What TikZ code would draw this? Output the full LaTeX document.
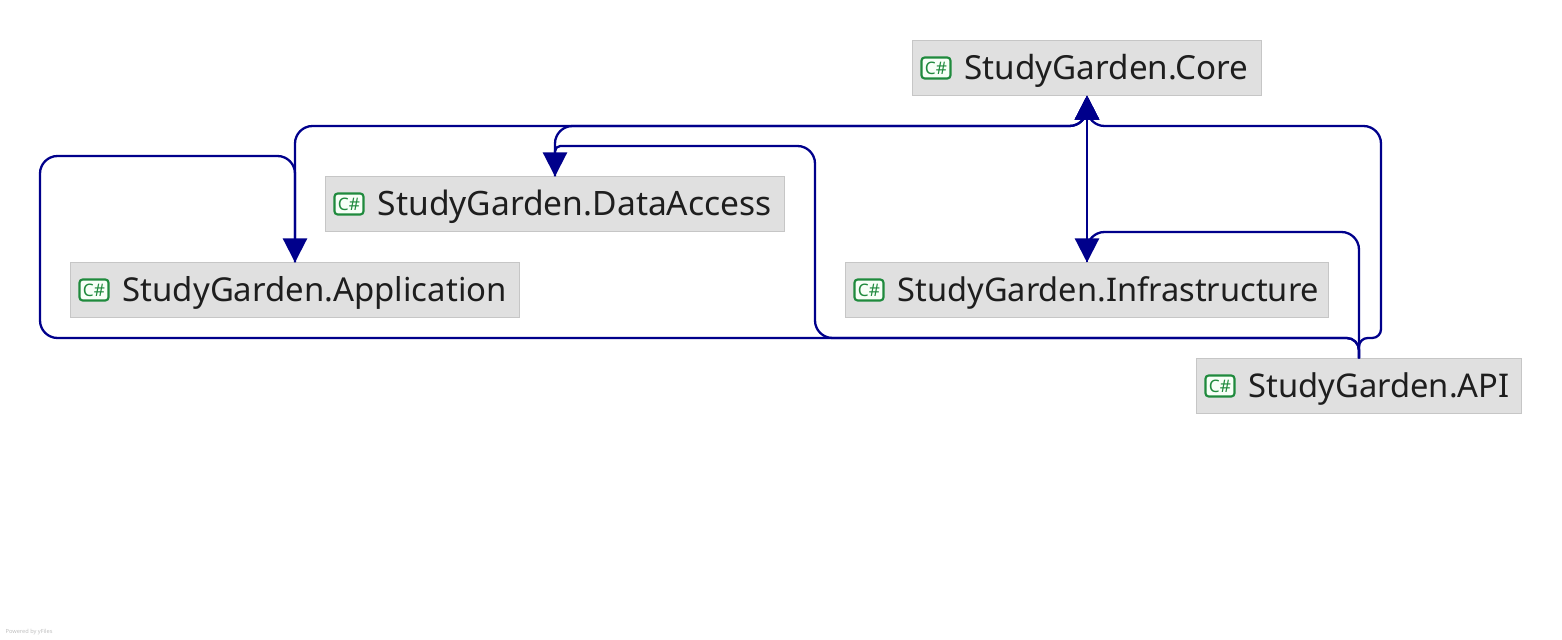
\documentclass[tikz,border=0pt]{standalone}
\usepackage{fontspec}
\setmainfont{Noto Sans}
\usetikzlibrary{arrows.meta}
\definecolor{depblue}{HTML}{00008B}
\definecolor{boxfill}{HTML}{E0E0E0}
\definecolor{boxline}{HTML}{C6C6C6}
\definecolor{csgreen}{HTML}{1F8A3D}
\definecolor{textdark}{HTML}{1E1E1E}
\tikzset{
  modbox/.style={draw=boxline,fill=boxfill,line width=0.3pt,inner sep=0pt,outer sep=0pt,minimum height=0.55cm},
  modname/.style={anchor=west,inner sep=0pt,text=textdark,font=\fontsize{#1}{11}\selectfont},
  csicon/.style={draw=csgreen,fill=green!3,line width=0.6pt,rounded corners=0.9pt,inner sep=0pt,minimum width=0.29cm,minimum height=0.21cm,text=csgreen,font=\fontsize{4.9}{5}\selectfont\bfseries},
  depline/.style={draw=depblue,line width=0.65pt,rounded corners=5pt},
  dephead/.style={depline,-{Triangle[length=0.24cm,width=0.24cm]}}
}
\begin{document}
\begin{tikzpicture}[x=0.01cm,y=-0.01cm]
   \useasboundingbox (0,0) rectangle (1562,640);
   % modules
   \node[modbox,minimum width=3.49cm] (core) at (1087,68) {};
   \node[modbox,minimum width=4.59cm] (dataaccess) at (555,204) {};
   \node[modbox,minimum width=4.49cm] (application) at (295,290) {};
   \node[modbox,minimum width=4.83cm] (infrastructure) at (1087,290) {};
   \node[modbox,minimum width=3.25cm] (api) at (1359,386) {};
   \node[csicon] (coreicon) at (936,68) {C\#};
   \node[csicon] (dataaccessicon) at (349,204) {C\#};
   \node[csicon] (applicationicon) at (94,290) {C\#};
   \node[csicon] (infrastructureicon) at (869,290) {C\#};
   \node[csicon] (apiicon) at (1220,386) {C\#};
   \node[modname=9.44] (corename) at (964,71) {StudyGarden.Core};
   \node[modname=9.55] (dataaccessname) at (377,207) {StudyGarden.DataAccess};
   \node[modname=9.36] (applicationname) at (122,293) {StudyGarden.Application};
   \node[modname=9.26] (infrastructurename) at (897,293) {StudyGarden.Infrastructure};
   \node[modname=9.29] (apiname) at (1248,389) {StudyGarden.API};
   % route corners
   \coordinate (lowleft) at (40,338);
   \coordinate (lowright) at (1381,338);
   \coordinate (lowmid) at (815,338);
   \coordinate (highright) at (1381,126);
   \coordinate (highleft) at (295,126);
   \coordinate (highdata) at (555,126);
   \coordinate (backleft) at (40,156);
   \coordinate (backapp) at (295,156);
   \coordinate (midtop) at (815,146);
   \coordinate (datatop) at (555,146);
   \coordinate (infratop) at (1087,232);
   \coordinate (apitop) at (1359,232);
   \coordinate (apilow) at (1359,338);
   \coordinate (coretop) at (1087,126);
   % dependencies
   \draw[dephead] (api.north) -- (apitop) -- (infratop) -- (infrastructure.north);
   \draw[dephead,rounded corners=3.5pt] (api.north) -- (apilow) [rounded corners=5pt] -- (lowmid) -- (midtop) [rounded corners=1.5pt] -- (datatop) -- (dataaccess.north);
   \draw[dephead,rounded corners=3.5pt] (api.north) -- (apilow) [rounded corners=5pt] -- (lowleft) -- (backleft) -- (backapp) -- (application.north);
   \draw[dephead,rounded corners=2.5pt] (api.north) -- (apilow) -- (lowright) [rounded corners=5pt] -- (highright) -- (coretop) [rounded corners=3pt] -- (core.south);
   \draw[dephead] (application.north) -- (highleft) -- (coretop) [rounded corners=3pt] -- (core.south);
   \draw[dephead] (dataaccess.north) -- (highdata) -- (coretop) [rounded corners=3pt] -- (core.south);
   \draw[dephead] (infrastructure.north) -- (core.south);
   \node[anchor=west,inner sep=0pt,text=black!25,font=\fontsize{1.6}{2}\selectfont] (poweredby) at (5,632) {Powered by yFiles};
  \end{tikzpicture}
\end{document}
